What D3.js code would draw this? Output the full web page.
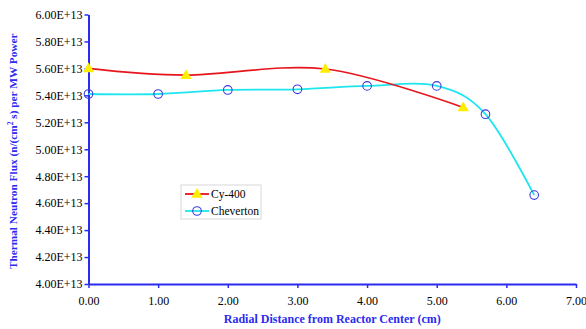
<!DOCTYPE html>
<html>
<head>
<meta charset="utf-8">
<script src="https://cdn.jsdelivr.net/npm/d3@7"></script>
<style>
  body { margin: 0; background: #fff; }
  svg text { font-family: "Liberation Serif", "Times New Roman", serif !important; }
</style>
</head>
<body>
<svg id="chart" width="586" height="329"></svg>
<script>
// Cy-400 series
const cyX = [0.0, 1.4, 3.4, 5.38];
const cyY = [5.60, 5.55, 5.595, 5.31];

// Cheverton series
const chevX = [0.0, 1.0, 2.0, 3.0, 4.0, 5.0, 5.7, 6.4];
const chevY = [5.41, 5.41, 5.44, 5.445, 5.47, 5.47, 5.26, 4.66];

const xTicks = [0, 1, 2, 3, 4, 5, 6, 7];
const yTicks = [4.0, 4.2, 4.4, 4.6, 4.8, 5.0, 5.2, 5.4, 5.6, 5.8, 6.0];

const svg = d3.select("#chart");
const axisColor = "#2b2bef";

let x = d3.scaleLinear().domain([0, 7]).range([88.5, 576]);
let y = d3.scaleLinear().domain([4.0, 6.0]).range([284, 14.5]);

// axes
let xAxis = svg.append("g")
  .attr("transform", `translate(0,${y(4.0)})`)
  .call(d3.axisBottom(x).tickValues(xTicks).tickFormat(d3.format(".2f")).tickSize(4).tickSizeOuter(0));

let yAxis = svg.append("g")
  .attr("transform", `translate(${x(0)},0)`)
  .call(d3.axisLeft(y).tickValues(yTicks).tickFormat((d) => d3.format(".2f")(d) + "E+13").tickSize(4).tickSizeOuter(0));

[xAxis, yAxis].forEach((ax) => {
  ax.attr("font-family", null);
  ax.select(".domain").attr("stroke", axisColor).attr("stroke-width", 2);
  ax.selectAll(".tick line").attr("stroke", axisColor).attr("stroke-width", 1.5);
  ax.selectAll(".tick text")
    .attr("fill", "#000")
    .style("font-size", "12px");
});
xAxis.selectAll(".tick text").attr("dy", "1.2em");
yAxis.selectAll(".tick text").attr("x", -6);

// axis titles
svg.append("text")
  .attr("x", (x(0) + x(7)) / 2 - 0)
  .attr("y", 323)
  .attr("text-anchor", "middle")
  .attr("fill", axisColor)
  .style("font-size", "12px")
  .style("font-weight", "bold")
  .text("Radial Distance from Reactor Center (cm)");

let yt = svg.append("text")
  .attr("transform", `translate(17,${(y(4) + y(6)) / 2 + 2}) rotate(-90)`)
  .attr("text-anchor", "middle")
  .attr("fill", axisColor)
  .style("font-size", "11.3px")
  .style("font-weight", "bold");
yt.append("tspan").text("Thermal Neutron Flux (n/(cm");
yt.append("tspan").attr("dy", -4).style("font-size", "7.5px").text("2");
yt.append("tspan").attr("dy", 4).text(" s) per MW Power");

// lines
const cyData = cyX.map((d, i) => [d, cyY[i]]);
const chevData = chevX.map((d, i) => [d, chevY[i]]);

let line = d3.line()
  .x((d) => x(d[0]))
  .y((d) => y(d[1]))
  .curve(d3.curveCatmullRom.alpha(0));

svg.append("path")
  .datum(chevData)
  .attr("d", line)
  .attr("fill", "none")
  .attr("stroke", "#1ee6ee")
  .attr("stroke-width", 1.8);

svg.append("path")
  .datum(cyData)
  .attr("d", line)
  .attr("fill", "none")
  .attr("stroke", "#e8141c")
  .attr("stroke-width", 1.6);

let tri = d3.symbol().type(d3.symbolTriangle).size(55);

svg.selectAll(".cy")
  .data(cyData)
  .enter()
  .append("path")
  .attr("class", "cy")
  .attr("d", tri)
  .attr("transform", (d) => `translate(${x(d[0])},${y(d[1]) + 0.5})`)
  .attr("fill", "#ffee00");

svg.selectAll(".chev")
  .data(chevData)
  .enter()
  .append("circle")
  .attr("class", "chev")
  .attr("cx", (d) => x(d[0]))
  .attr("cy", (d) => y(d[1]))
  .attr("r", 4.3)
  .attr("fill", "none")
  .attr("stroke", "#3b3bdf")
  .attr("stroke-width", 1.1);

// legend
let legend = svg.append("g").attr("transform", "translate(181,185)");
legend.append("rect")
  .attr("width", 80)
  .attr("height", 34)
  .attr("fill", "#fff")
  .attr("stroke", "#d8d8d8");

let entries = [
  { name: "Cy-400", color: "#e8141c", mark: "tri" },
  { name: "Cheverton", color: "#1ee6ee", mark: "circle" },
];

entries.forEach((e, i) => {
  let yy = 9 + i * 17;
  legend.append("line")
    .attr("x1", 4).attr("x2", 28)
    .attr("y1", yy).attr("y2", yy)
    .attr("stroke", e.color)
    .attr("stroke-width", 1.8);
  if (e.mark === "tri") {
    legend.append("path")
      .attr("d", tri)
      .attr("transform", `translate(16,${yy + 0.5})`)
      .attr("fill", "#ffee00");
  } else {
    legend.append("circle")
      .attr("cx", 16).attr("cy", yy).attr("r", 4.3)
      .attr("fill", "none")
      .attr("stroke", "#3b3bdf")
      .attr("stroke-width", 1.1);
  }
  legend.append("text")
    .attr("x", 30)
    .attr("y", yy + 4)
    .attr("fill", "#000")
    .style("font-size", "11.5px")
    .text(e.name);
});
</script>
</body>
</html>
